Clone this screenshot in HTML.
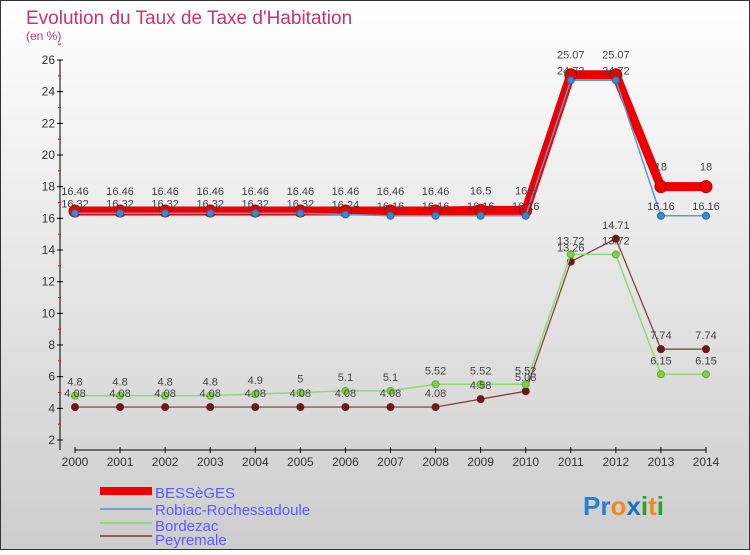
<!DOCTYPE html>
<html><head><meta charset="utf-8"><style>
body{margin:0;width:750px;height:550px;overflow:hidden;font-family:"Liberation Sans",sans-serif}
</style></head><body>
<svg width="750" height="550" xmlns="http://www.w3.org/2000/svg">
<defs><linearGradient id="bg" x1="0" y1="0" x2="0" y2="1"><stop offset="0" stop-color="#ffffff"/><stop offset="1" stop-color="#cdcdcd"/></linearGradient></defs>
<rect x="0.5" y="0.5" width="749" height="549" fill="url(#bg)" stroke="#333"/>
<text x="26" y="24" font-size="19" fill="#c8336a">Evolution du Taux de Taxe d'Habitation</text>
<text x="26" y="40" font-size="12" fill="#c8336a">(en %)</text>
<g id="axes"></g><g id="series"></g><g id="labels"></g>
<g font-size="15" fill="#5a5aff">
<rect x="100" y="487" width="52" height="8" fill="#ee0000"/>
<text x="155" y="498">BESSèGES</text>
<rect x="100" y="508" width="52" height="2" fill="#6aa3cf"/>
<text x="155" y="515">Robiac-Rochessadoule</text>
<rect x="100" y="522" width="52" height="2" fill="#8fd870"/>
<text x="155" y="531">Bordezac</text>
<rect x="100" y="535" width="52" height="2" fill="#9a5a5a"/>
<text x="155" y="545">Peyremale</text>
</g>
<g font-size="26" font-weight="bold">
<text x="583" y="515"><tspan fill="#2a7fd0">Pr</tspan><tspan fill="#f08a1c">o</tspan><tspan fill="#1a6fc0">x</tspan><tspan fill="#2aa030">i</tspan><tspan fill="#f08a1c">t</tspan><tspan fill="#2aa030">i</tspan></text>
</g>
</svg>
<script>
const years=[2000,2001,2002,2003,2004,2005,2006,2007,2008,2009,2010,2011,2012,2013,2014];
const besseges=[16.46,16.46,16.46,16.46,16.46,16.46,16.46,16.46,16.46,16.5,16.5,25.07,25.07,18,18];
const robiac=[16.32,16.32,16.32,16.32,16.32,16.32,16.24,16.16,16.16,16.16,16.16,24.72,24.72,16.16,16.16];
const bordezac=[4.8,4.8,4.8,4.8,4.9,5,5.1,5.1,5.52,5.52,5.52,13.72,13.72,6.15,6.15];
const peyremale=[4.08,4.08,4.08,4.08,4.08,4.08,4.08,4.08,4.08,4.58,5.08,13.26,14.71,7.74,7.74];
const yTicks=[2,4,6,8,10,12,14,16,18,20,22,24,26];
const NS="http://www.w3.org/2000/svg";
const X=i=>75+i*(706-75)/(years.length-1);
const Y=v=>440-(v-2)*(380/24);
function mk(tag,attrs,parent){const e=document.createElementNS(NS,tag);for(const k in attrs)e.setAttribute(k,attrs[k]);parent.appendChild(e);return e;}
const axes=document.getElementById('axes'),ser=document.getElementById('series'),lab=document.getElementById('labels');
let ya=mk('line',{x1:60,y1:Y(26),x2:60,y2:450,stroke:'#000'},axes);


let xa=mk('line',{x1:75,y1:450,x2:706,y2:450,stroke:'#000'},axes);


yTicks.forEach(t=>{
 mk('line',{x1:57,y1:Y(t),x2:63,y2:Y(t),stroke:'#000'},axes);
 mk('line',{x1:58,y1:Y(t+1),x2:61,y2:Y(t+1),stroke:'#f00'},axes);
 const tx=mk('text',{x:55,y:Y(t)+4,'text-anchor':'end','font-size':12,fill:'#333'},axes);
 tx.textContent=t;
 
 
});
years.forEach((yr,i)=>{
 mk('line',{x1:X(i),y1:447,x2:X(i),y2:453,stroke:'#000'},axes);
 const tx=mk('text',{x:X(i),y:466,'text-anchor':'middle','font-size':12,fill:'#333'},axes);
 tx.textContent=yr;
 
 
});
function series(vals,name,color,w,r,dotFill,dotStroke,dy){
 const pts=vals.map((v,i)=>X(i)+','+Y(v)).join(' ');
 const pl=mk('polyline',{points:pts,fill:'none',stroke:color,'stroke-width':w,'stroke-linejoin':'round'},ser);
 
 
 vals.forEach((v,i)=>{
  const c=mk('circle',{cx:X(i),cy:Y(v),r:r,fill:dotFill,stroke:dotStroke},ser);
  
  
  const t=mk('text',{x:X(i),y:Y(v)+dy,'text-anchor':'middle','font-size':11,fill:'#444'},lab);
  t.textContent=v;
  
  
 });
}
series(peyremale,'peyremale','#7a3a3a',1.2,3.5,'#6a1a1a','#6a1a1a',-10);
series(bordezac,'bordezac','#90d870',1.5,3.5,'#80d050','#60b030',-10);
series(besseges,'besseges','#ee0000',9,6,'#ee0000','#b00000',-16);
series(robiac,'robiac','#5a9ad0',1.5,3.5,'#3a8ad0','#2a6aa0',-6);
</script>
</body></html>
